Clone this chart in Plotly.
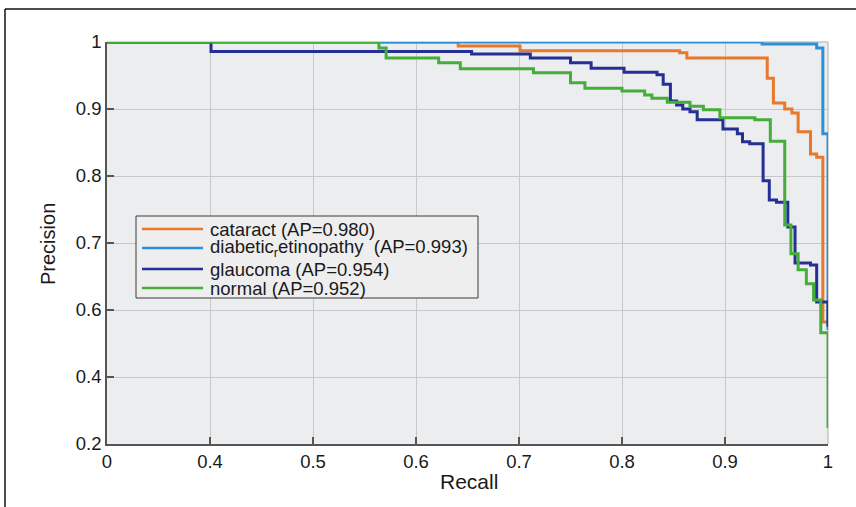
import plotly.graph_objects as go

# Axis tick positions (plot coordinates) and their printed labels
x_tickvals = [0.3, 0.4, 0.5, 0.6, 0.7, 0.8, 0.9, 1.0]
x_ticktext = ["0", "0.4", "0.5", "0.6", "0.7", "0.8", "0.9", "1"]
y_tickvals = [0.4, 0.5, 0.6, 0.7, 0.8, 0.9, 1.0]
y_ticktext = ["0.2", "0.4", "0.6", "0.7", "0.8", "0.9", "1"]

# Step-curve corner points (recall, precision) in plot coordinates
cataract_x = [0.3, 0.641, 0.701, 0.856, 0.863, 0.941, 0.947, 0.958, 0.965, 0.971, 0.983, 0.989, 0.995, 1.0]
cataract_y = [1.0, 0.994, 0.987, 0.984, 0.976, 0.946, 0.909, 0.900, 0.894, 0.866, 0.833, 0.828, 0.582, 0.578]

diabetic_x = [0.3, 0.936, 0.989, 0.995, 1.0]
diabetic_y = [1.0, 0.997, 0.991, 0.863, 0.570]

glaucoma_x = [0.3, 0.401, 0.654, 0.711, 0.750, 0.770, 0.802, 0.834, 0.840, 0.847, 0.853, 0.859, 0.866,
              0.873, 0.898, 0.912, 0.917, 0.924, 0.937, 0.943, 0.950, 0.961, 0.968, 0.983, 0.989, 1.0]
glaucoma_y = [1.0, 0.986, 0.982, 0.976, 0.969, 0.961, 0.955, 0.951, 0.937, 0.912, 0.906, 0.900, 0.896,
              0.884, 0.870, 0.863, 0.851, 0.848, 0.793, 0.764, 0.761, 0.724, 0.670, 0.667, 0.612, 0.575]

normal_x = [0.3, 0.564, 0.571, 0.622, 0.643, 0.714, 0.750, 0.764, 0.800, 0.822, 0.829, 0.844, 0.866,
            0.879, 0.895, 0.929, 0.944, 0.958, 0.964, 0.971, 0.979, 0.986, 0.993, 1.0]
normal_y = [1.0, 0.991, 0.976, 0.969, 0.960, 0.954, 0.939, 0.931, 0.927, 0.921, 0.916, 0.910, 0.904,
            0.899, 0.887, 0.884, 0.852, 0.727, 0.684, 0.660, 0.639, 0.615, 0.566, 0.424]

names = ["cataract", "diabetic<sub>r</sub>etinopathy ", "glaucoma", "normal"]
ap_values = ["0.980", "0.993", "0.954", "0.952"]
colors = ["#E8782B", "#2E90D8", "#262F94", "#45AD3A"]

series = [(cataract_x, cataract_y), (diabetic_x, diabetic_y),
          (glaucoma_x, glaucoma_y), (normal_x, normal_y)]

FONT = "Liberation Sans, Arial, sans-serif"
TXT = "#1a1a1a"

fig = go.Figure()
for (xs, ys), c, n in zip(series, colors, names):
    fig.add_trace(go.Scatter(x=xs, y=ys, mode="lines", line=dict(color=c, width=3, shape="hv"),
                             name=n, showlegend=False))

# plot-area geometry (pixels) for paper conversions
L, R, T, B = 107, 828, 42, 444
def px(xp):
    return (xp - L) / (R - L)
def py(yp):
    return (B - yp) / (B - T)

shapes = []
annotations = []
# manual legend box
shapes.append(dict(type="rect", xref="paper", yref="paper", x0=px(136), x1=px(478), y0=py(298), y1=py(216),
                   fillcolor="#EEEEEF", line=dict(color="#3a3a3a", width=1), layer="above"))
legend_rows = [229, 248, 269, 288]
for n, ap, c, yr in zip(names, ap_values, colors, legend_rows):
    shapes.append(dict(type="line", xref="paper", yref="paper", x0=px(142), x1=px(203), y0=py(yr), y1=py(yr),
                       line=dict(color=c, width=2.5), layer="above"))
    annotations.append(dict(xref="paper", yref="paper", x=px(208), y=py(yr), xanchor="left", yanchor="middle",
                            text=f"{n} (AP={ap})", showarrow=False,
                            font=dict(family=FONT, size=18.5, color=TXT)))

# top/right light border
shapes.append(dict(type="line", xref="paper", yref="paper", x0=0, x1=1, y0=1, y1=1,
                   line=dict(color="#C4C4C4", width=1.5), layer="below"))
shapes.append(dict(type="line", xref="paper", yref="paper", x0=1, x1=1, y0=0, y1=1,
                   line=dict(color="#C4C4C4", width=1.5), layer="below"))
# outer figure frame (top and left dark edges)
shapes.append(dict(type="line", xref="paper", yref="paper", x0=px(5), x1=px(860), y0=py(9), y1=py(9),
                   line=dict(color="#111111", width=1.5)))
shapes.append(dict(type="line", xref="paper", yref="paper", x0=px(5), x1=px(5), y0=py(9), y1=py(512),
                   line=dict(color="#111111", width=1.5)))

annotations.append(dict(xref="paper", yref="paper", x=px(469), y=py(481), text="Recall", showarrow=False,
                        xanchor="center", yanchor="middle", font=dict(family=FONT, size=21, color=TXT)))
annotations.append(dict(xref="paper", yref="paper", x=px(48), y=py(244), text="Precision", showarrow=False,
                        textangle=-90, xanchor="center", yanchor="middle",
                        font=dict(family=FONT, size=20, color=TXT)))

fig.update_layout(
    width=856, height=507,
    margin=dict(l=L, r=856 - R, t=T, b=507 - B),
    paper_bgcolor="white", plot_bgcolor="#EBEDEF",
    shapes=shapes, annotations=annotations,
    showlegend=False,
    font=dict(family=FONT, size=18, color=TXT),
)
axis_common = dict(showgrid=True, gridcolor="#C8C8C8", gridwidth=1, zeroline=False,
                   showline=True, linecolor="#555555", linewidth=1.5,
                   ticks="inside", ticklen=7, tickcolor="#555555", tickwidth=1.5,
                   tickfont=dict(family=FONT, size=18.5, color=TXT))
fig.update_xaxes(range=[0.3, 1.0], tickvals=x_tickvals, ticktext=x_ticktext, **axis_common)
fig.update_yaxes(range=[0.4, 1.0], tickvals=y_tickvals, ticktext=y_ticktext, **axis_common)

fig.write_html("out.html", config={"displayModeBar": False},
               post_script="document.body.style.margin='0';document.body.style.overflow='hidden';")
